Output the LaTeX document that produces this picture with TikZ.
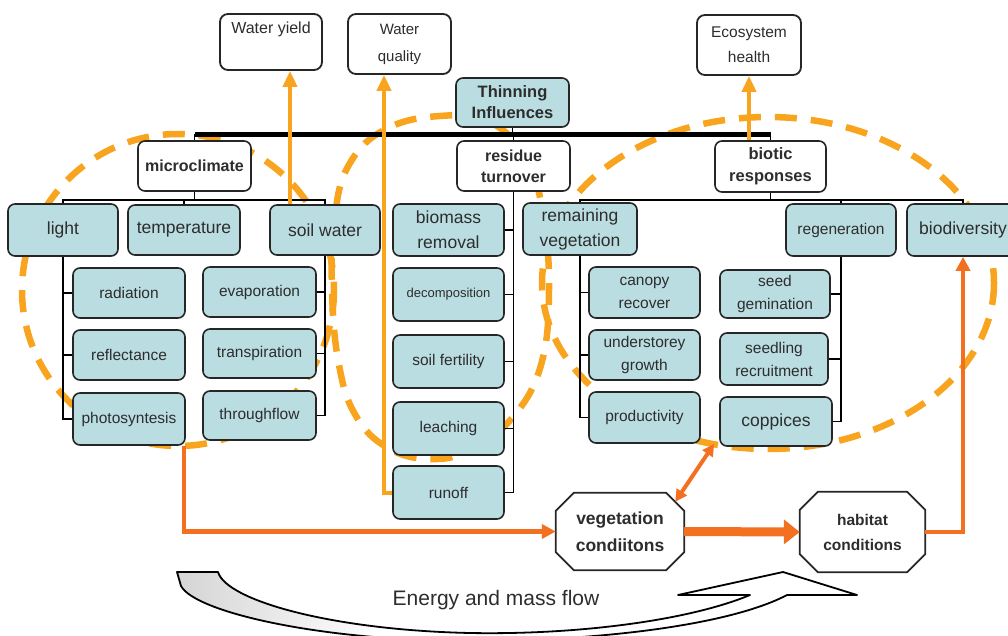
\documentclass[tikz,border=0pt]{standalone}
\usepackage{fontspec}
\setmainfont{Liberation Sans}
\usetikzlibrary{arrows.meta,calc}

\definecolor{cellfill}{RGB}{186,221,225}
\definecolor{edge}{RGB}{38,38,38}
\definecolor{txt}{RGB}{45,45,45}
\definecolor{amber}{RGB}{248,164,30}
\definecolor{flame}{RGB}{243,112,33}

% grey-to-white fill of the curved flow band
\pgfdeclarehorizontalshading{flowshade}{100bp}{color(0bp)=(black!30); color(22bp)=(black!20); color(40bp)=(white); color(100bp)=(white)}

% octagonal frame drawn around a (borderless) rectangular node
\newcommand\octframe[2]{%
  \draw[octline] ($(#1.north west)+(#2,0)$) -- ($(#1.north east)+(-#2,0)$)
    -- ($(#1.north east)+(0,#2)$) -- ($(#1.south east)+(0,-#2)$)
    -- ($(#1.south east)+(-#2,0)$) -- ($(#1.south west)+(#2,0)$)
    -- ($(#1.south west)+(0,-#2)$) -- ($(#1.north west)+(0,#2)$) -- cycle;}

\tikzset{
  base/.style={draw=edge, line width=1.6pt, rounded corners=7pt, inner sep=0pt, align=center, text=txt},
  cell/.style={base, fill=cellfill, font=\fontsize{15.5}{23}\selectfont},
  bigcell/.style={cell, font=\fontsize{17.5}{25}\selectfont},
  hub/.style={base, fill=white, font=\bfseries\fontsize{16}{21}\selectfont},
  outbox/.style={base, fill=white, line width=1.8pt, rounded corners=8pt},
  sz/.style 2 args={minimum width=#1pt, minimum height=#2pt},
  tree/.style={draw=black, line width=1.5pt},
  bus/.style={draw=black, line width=5pt},
  dashring/.style={draw=amber, line width=6.5pt, dash pattern=on 22pt off 14pt},
  octline/.style={draw=edge, line width=1.8pt, fill=white},
  waterarrow/.style={draw=amber, line width=4pt, -{Triangle[length=16pt,width=14pt]}},
  flowarrow/.style={draw=flame, line width=4.5pt, -{Triangle[length=14pt,width=14pt]}},
  bigarrow/.style={draw=flame, line width=9pt, -{Triangle[length=16pt,width=24pt]}},
  dblarrow/.style={draw=flame, line width=4pt, {Triangle[length=12pt,width=12pt]}-{Triangle[length=12pt,width=12pt]}},
  band/.style={draw=black, line width=1.8pt, shading=flowshade, line join=round},
}

\begin{document}
\begin{tikzpicture}[x=1pt,y=-1pt, every node/.style={inner sep=0pt, text=txt, align=center}]
\useasboundingbox (0,0) rectangle (1008,636);
\clip (0,0) rectangle (1008,636);

% curved energy and mass flow arrow
\path[band] (177,572) -- (218,572)
  .. controls (226,600) and (330,630) .. (470,633)
  .. controls (580,635) and (690,620) .. (750,595)
  -- (678,595) -- (783,572) -- (857,595) -- (787,595)
  .. controls (730,625) and (600,641) .. (470,641)
  .. controls (320,641) and (195,612) .. (181,586) -- cycle;
\node[font=\fontsize{21}{24}\selectfont] (emf) at (496,600) {Energy and mass flow};

% ---------- dashed groupings (behind the boxes) ----------
\draw[dashring] (178,290) circle [radius=156];
\draw[dashring] plot[smooth cycle, tension=0.7] coordinates {(440,116) (490,122) (527,160) (543,215) (549,290) (541,365) (512,418) (470,450) (430,459) (388,448) (356,416) (339,365) (332,290) (335,215) (350,163) (386,129)};
\draw[dashring] (768,283) ellipse [x radius=226, y radius=166];

% ---------- outcome boxes ----------
\node[outbox, sz={102}{56}] (wy) at (271,42) {};
\node[font=\fontsize{16}{20}\selectfont] (wyt) at ($(wy.north)+(0,16)$) {Water yield};
\node[outbox, sz={103}{60}, font=\fontsize{15}{27}\selectfont] (wq) at (399.5,44) {Water\\quality};
\node[outbox, sz={104}{60}, font=\fontsize{15.5}{25}\selectfont] (eco) at (749,45) {Ecosystem\\health};

% ---------- hierarchy top ----------
\node[cell, sz={113}{49}, font=\bfseries\fontsize{16.5}{21}\selectfont] (thin) at (512.5,102.5) {Thinning\\Influences};
\node[hub, sz={113}{50}] (micro) at (194.5,166) {microclimate};
\node[hub, sz={113}{50}] (resid) at (513.5,166) {residue\\turnover};
\node[hub, sz={111}{51}, font=\bfseries\fontsize{16.5}{22}\selectfont] (biotic) at (770.5,166.5) {biotic\\responses};

% ---------- second level ----------
\node[bigcell, sz={110}{52}] (light) at (63,230) {light};
\node[bigcell, sz={112}{50}] (temp) at (184,230) {temperature};
\node[bigcell, sz={110}{50}] (soil) at (325,230) {soil water};
\node[bigcell, sz={111}{52}] (biomass) at (448.5,230) {biomass\\removal};
\node[bigcell, sz={114}{52}] (remveg) at (580,229) {remaining\\vegetation};
\node[cell, sz={110}{52}] (regen) at (841,230) {regeneration};
\node[bigcell, sz={112}{52}] (biodiv) at (963,230) {biodiversity};

% ---------- third level ----------
\node[cell, sz={112}{50}] (rad) at (129,293) {radiation};
\node[cell, sz={112}{50}] (refl) at (129,355) {reflectance};
\node[cell, sz={112}{52}] (photo) at (129,419) {photosyntesis};
\node[cell, sz={113}{50}] (evap) at (259.5,292) {evaporation};
\node[cell, sz={113}{49}] (transp) at (259.5,353.5) {transpiration};
\node[cell, sz={113}{49}] (through) at (259.5,415.5) {throughflow};
\node[cell, sz={111}{53}, font=\fontsize{13}{15}\selectfont] (decomp) at (448.5,294.5) {decomposition};
\node[cell, sz={111}{53}] (fert) at (448.5,361.5) {soil fertility};
\node[cell, sz={111}{53}] (leach) at (448.5,428.5) {leaching};
\node[cell, sz={111}{53}] (runoff) at (448.5,492.5) {runoff};
\node[cell, sz={111}{51}] (canopy) at (644.5,292.5) {canopy\\recover};
\node[cell, sz={111}{50}] (under) at (644.5,355) {understorey\\growth};
\node[cell, sz={111}{51}] (prod) at (644.5,417.5) {productivity};
\node[cell, sz={110}{48}] (seed) at (775,294) {seed\\gemination};
\node[cell, sz={108}{52}] (seedling) at (774,359) {seedling\\recruitment};
\node[bigcell, sz={112}{49}] (copp) at (776,421.5) {coppices};

% ---------- tree connectors ----------
\coordinate (busL) at ($(micro.north)+(0,-6)$);
\coordinate (busR) at (busL -| biotic.north);
\draw[tree] (thin.south) -- (thin.south |- busL);
\draw[tree] (busL) -- (micro.north);
\draw[tree] (resid.north |- busL) -- (resid.north);
\draw[tree] (busR) -- (biotic.north);
\draw[bus] (busL) -- (busR);

\path (micro.south) ++(0,8) coordinate (mj);
\path (biotic.south) ++(0,7) coordinate (bj);
\draw[tree] (micro.south) -- (mj);
\draw[tree] (light.north) |- (mj) -| (soil.north);
\draw[tree] (temp.north) -- (temp.north |- mj);
\draw[tree] (biotic.south) -- (bj);
\draw[tree] (remveg.north) |- (bj) -| (biodiv.north);
\draw[tree] (regen.north) -- (regen.north |- bj);

\draw[tree] (light.south) |- (photo.west);
\draw[tree] (light.south |- rad.west) -- (rad.west);
\draw[tree] (light.south |- refl.west) -- (refl.west);
\draw[tree] (soil.south) |- (through.east);
\draw[tree] (soil.south |- evap.east) -- (evap.east);
\draw[tree] (soil.south |- transp.east) -- (transp.east);
\draw[tree] (resid.south) |- (runoff.east);
\draw[tree] (resid.south |- biomass.east) -- (biomass.east);
\draw[tree] (resid.south |- decomp.east) -- (decomp.east);
\draw[tree] (resid.south |- fert.east) -- (fert.east);
\draw[tree] (resid.south |- leach.east) -- (leach.east);
\draw[tree] (remveg.south) |- (prod.west);
\draw[tree] (remveg.south |- canopy.west) -- (canopy.west);
\draw[tree] (remveg.south |- under.west) -- (under.west);
\draw[tree] (regen.south) |- (copp.east);
\draw[tree] (regen.south |- seed.east) -- (seed.east);
\draw[tree] (regen.south |- seedling.east) -- (seedling.east);

% ---------- condition octagons ----------
\node[sz={128}{77}] (vegbox) at (620,531.5) {};
\octframe{vegbox}{18}
\node[font=\bfseries\fontsize{17.5}{27}\selectfont] (veg) at (vegbox.center) {vegetation\\condiitons};
\node[sz={125}{80}] (habbox) at (862.5,532) {};
\octframe{habbox}{18}
\node[font=\bfseries\fontsize{15.5}{25}\selectfont] (hab) at (habbox.center) {habitat\\conditions};

% ---------- orange flows ----------
\draw[waterarrow] ($(soil.north)+(-35,0)$) coordinate (wyfoot) -- (wyfoot |- wy.south);
\draw[waterarrow] (runoff.west) -| ($(wq.south)+(-15.5,0)$);
\draw[waterarrow] (biotic.north -| eco.south) -- (eco.south);

\draw[flowarrow] ($(photo.south east)+(-2,0)$) |- (vegbox.west);
\draw[bigarrow] (vegbox.east) -- (habbox.west);
\draw[flowarrow] (habbox.east) -| (biodiv.south);
\draw[dblarrow] ($(copp.south west)+(-5,-3)$) -- ($(vegbox.north east)+(-9,9)$);
\end{tikzpicture}
\end{document}
